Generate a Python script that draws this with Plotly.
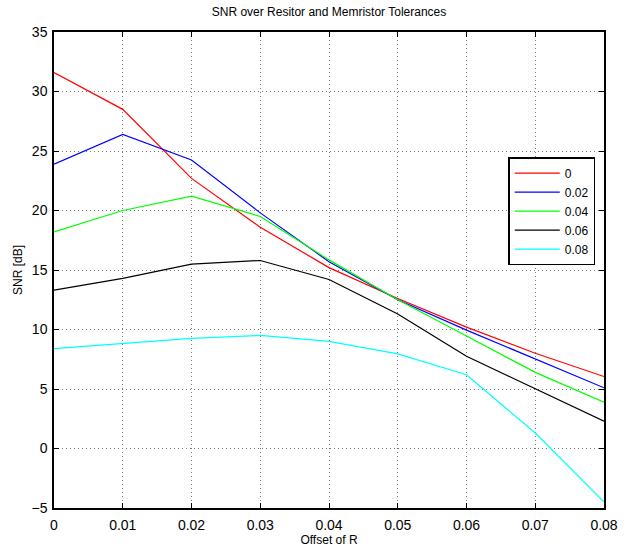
import plotly.graph_objects as go

offsets = [0, 0.01, 0.02, 0.03, 0.04, 0.05, 0.06, 0.07, 0.08]
series_names = ["0", "0.02", "0.04", "0.06", "0.08"]
snr_0 = [31.6, 28.5, 22.7, 18.6, 15.2, 12.6, 10.2, 8.0, 6.05]
snr_002 = [23.9, 26.4, 24.25, 19.8, 15.7, 12.5, 9.95, 7.55, 5.1]
snr_004 = [18.2, 20.0, 21.2, 19.5, 15.85, 12.5, 9.45, 6.4, 3.9]
snr_006 = [13.3, 14.3, 15.5, 15.8, 14.2, 11.3, 7.75, 5.0, 2.3]
snr_008 = [8.4, 8.8, 9.25, 9.5, 9.0, 7.95, 6.2, 1.3, -4.5]
colors = ["#ff0000", "#0000ff", "#00ff00", "#000000", "#00ffff"]
x_ticks = [0, 0.01, 0.02, 0.03, 0.04, 0.05, 0.06, 0.07, 0.08]
x_tick_labels = ["0", "0.01", "0.02", "0.03", "0.04", "0.05", "0.06", "0.07", "0.08"]
y_ticks = [-5, 0, 5, 10, 15, 20, 25, 30, 35]

font_family = "Liberation Sans, Arial, Helvetica, sans-serif"

fig = go.Figure()
for name, vals, col in zip(series_names, [snr_0, snr_002, snr_004, snr_006, snr_008], colors):
    fig.add_trace(go.Scatter(x=offsets, y=vals, mode="lines", name=name,
                             line=dict(color=col, width=1.2)))

axis_common = dict(
    showline=True, linecolor="black", linewidth=1.5, mirror="ticks",
    ticks="inside", ticklen=5, tickwidth=1, tickcolor="black",
    showgrid=True, gridcolor="#777777", griddash="1px,3px", gridwidth=1,
    zeroline=False, tickfont=dict(size=14, color="black", family=font_family),
)

fig.update_layout(
    width=630, height=553,
    margin=dict(l=54, r=13, t=32, b=35),
    paper_bgcolor="white", plot_bgcolor="white",
    font=dict(family=font_family, color="black"),
    title=dict(text="SNR over Resitor and Memristor Tolerances", x=0.5, xref="paper",
               xanchor="center", y=1 - 12 / 553, yanchor="middle",
               font=dict(size=12, color="black")),
    xaxis=dict(range=[0, 0.08], tickvals=x_ticks, ticktext=x_tick_labels,
               ticklabelstandoff=3,
               title=dict(text="Offset of R", font=dict(size=12), standoff=0),
               **axis_common),
    yaxis=dict(range=[-5, 35], tickvals=y_ticks, ticklabelstandoff=2,
               title=dict(text="SNR [dB]", font=dict(size=12), standoff=6),
               **axis_common),
    legend=dict(x=(519 - 54) / 563, y=0.737, xanchor="left", yanchor="top",
                bordercolor="black", borderwidth=1.5, bgcolor="white",
                font=dict(size=12, color="black"), tracegroupgap=0,
                itemwidth=45),
    showlegend=True,
)

fig.write_html("out.html")
